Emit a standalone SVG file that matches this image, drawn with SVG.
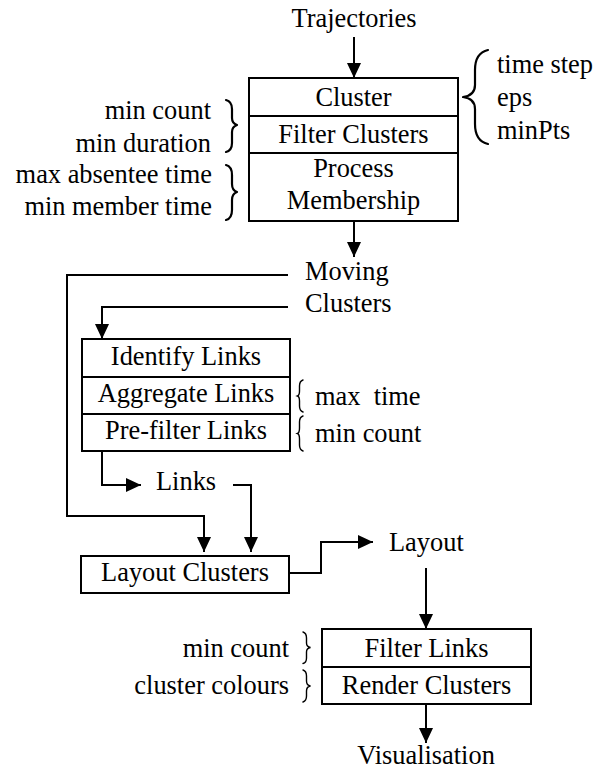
<svg xmlns="http://www.w3.org/2000/svg" width="603" height="769" viewBox="0 0 603 769">
  <defs>
    <style>
      text { font-family: "Liberation Serif", "Times New Roman", serif; font-size: 26.4px; fill: #000; }
      .mid { text-anchor: middle; }
      .end { text-anchor: end; }
      .box { fill: #fff; stroke: #000; stroke-width: 2; }
      .div { stroke: #000; stroke-width: 2; }
      .wire { fill: none; stroke: #000; stroke-width: 2; }
      .brace { fill: none; stroke: #000; stroke-width: 2.2; stroke-linecap: round; stroke-linejoin: round; }
      .brace-thin { fill: none; stroke: #000; stroke-width: 1.4; stroke-linecap: round; }
    </style>
    <marker id="arrow" markerUnits="userSpaceOnUse" markerWidth="16" markerHeight="16" viewBox="0 0 16 16" refX="15" refY="8" orient="auto">
      <path d="M0,1 L15,8 L0,15 Z" fill="#000"/>
    </marker>
  </defs>
  <rect width="603" height="769" fill="#fff"/>

  <!-- input -->
  <g id="trajectories">
    <text class="mid" x="354" y="27">Trajectories</text>
  </g>

  <!-- clustering stage -->
  <g id="clustering">
    <rect class="box" x="249" y="78" width="209" height="143"/>
    <line class="div" x1="249" y1="116" x2="458" y2="116"/>
    <line class="div" x1="249" y1="153" x2="458" y2="153"/>
    <text class="mid" x="353.5" y="106">Cluster</text>
    <text class="mid" x="353.5" y="143">Filter Clusters</text>
    <text class="mid" x="353.5" y="177">Process</text>
    <text class="mid" x="353.5" y="209">Membership</text>
  </g>

  <g id="cluster-params">
    <path class="brace" d="M488,50 C479,52 475,59 475,70 L475,85 C475,92 471,96 463,97 C471,98 475,102 475,109 L475,124 C475,135 479,142 488,144"/>
    <text x="497" y="73">time step</text>
    <text x="497" y="106">eps</text>
    <text x="497" y="139">minPts</text>
  </g>

  <g id="filter-params">
    <path class="brace" d="M226,100 C230,101 232,104 232,109 L232,118 C232,122 234,124 237,125 C234,126 232,128 232,132 L232,143 C232,148 230,151 226,152"/>
    <text class="end" x="211" y="119">min count</text>
    <text class="end" x="211" y="152">min duration</text>
  </g>

  <g id="membership-params">
    <path class="brace" d="M226,165 C230,166 232,170 232,175 L232,184 C232,189 234,191 237,192 C234,193 232,195 232,200 L232,210 C232,215 230,219 226,220"/>
    <text class="end" x="212" y="183">max absentee time</text>
    <text class="end" x="212" y="215">min member time</text>
  </g>

  <g id="moving-clusters">
    <text x="305" y="280">Moving</text>
    <text x="305" y="312">Clusters</text>
  </g>

  <!-- link extraction stage -->
  <g id="links-stage">
    <rect class="box" x="82" y="339" width="208" height="112"/>
    <line class="div" x1="82" y1="377" x2="290" y2="377"/>
    <line class="div" x1="82" y1="414" x2="290" y2="414"/>
    <text class="mid" x="186" y="365">Identify Links</text>
    <text class="mid" x="186" y="402">Aggregate Links</text>
    <text class="mid" x="186" y="439">Pre-filter Links</text>
  </g>

  <g id="aggregate-params">
    <path class="brace-thin" d="M303,380 C300,381 299.5,383 299.5,386 L299.5,391 C299.5,394 299,395.5 297.5,396 C299,396.5 299.5,398 299.5,401 L299.5,406 C299.5,409 300,411 303,412"/>
    <text x="315" y="405" xml:space="preserve">max  time</text>
  </g>

  <g id="prefilter-params">
    <path class="brace-thin" d="M303,416 C300,417 299.5,419 299.5,422 L299.5,428 C299.5,431 299,433 297.5,433.5 C299,434 299.5,436 299.5,439 L299.5,445 C299.5,448 300,450 303,451"/>
    <text x="315" y="442">min count</text>
  </g>

  <g id="links">
    <text x="156" y="490">Links</text>
  </g>

  <!-- layout stage -->
  <g id="layout-clusters">
    <rect class="box" x="81" y="556" width="208" height="37"/>
    <text class="mid" x="185" y="581">Layout Clusters</text>
  </g>

  <g id="layout">
    <text x="389" y="551">Layout</text>
  </g>

  <!-- rendering stage -->
  <g id="render-stage">
    <rect class="box" x="322" y="629" width="209" height="75"/>
    <line class="div" x1="322" y1="667" x2="531" y2="667"/>
    <text class="mid" x="426.5" y="657">Filter Links</text>
    <text class="mid" x="426.5" y="694">Render Clusters</text>
  </g>

  <g id="filter-links-params">
    <path class="brace-thin" d="M303,632 C306,633 306.5,635 306.5,638 L306.5,643 C306.5,646 307.5,647 310.5,647.5 C307.5,648 306.5,649 306.5,652 L306.5,658 C306.5,661 306,663 303,663.5"/>
    <text class="end" x="289" y="657">min count</text>
  </g>

  <g id="render-params">
    <path class="brace-thin" d="M303,670 C306,671 306.5,673 306.5,676 L306.5,681 C306.5,684 307.5,685.5 310.5,686 C307.5,686.5 306.5,688 306.5,691 L306.5,696 C306.5,699 306,701 303,702"/>
    <text class="end" x="289" y="694">cluster colours</text>
  </g>

  <g id="visualisation">
    <text class="mid" x="426" y="764">Visualisation</text>
  </g>

  <!-- connectors -->
  <g id="connectors">
    <path class="wire" d="M354,37 V78" marker-end="url(#arrow)"/>
    <path class="wire" d="M354,221 V257" marker-end="url(#arrow)"/>
    <path class="wire" d="M288,275 H67 V516 H204 V552" marker-end="url(#arrow)"/>
    <path class="wire" d="M288,307 H102 V339" marker-end="url(#arrow)"/>
    <path class="wire" d="M102,451 V485 H141" marker-end="url(#arrow)"/>
    <path class="wire" d="M233,485 H251 V552" marker-end="url(#arrow)"/>
    <path class="wire" d="M289,573 H321 V542 H373" marker-end="url(#arrow)"/>
    <path class="wire" d="M426,568 V629" marker-end="url(#arrow)"/>
    <path class="wire" d="M426,704 V743" marker-end="url(#arrow)"/>
  </g>
</svg>
